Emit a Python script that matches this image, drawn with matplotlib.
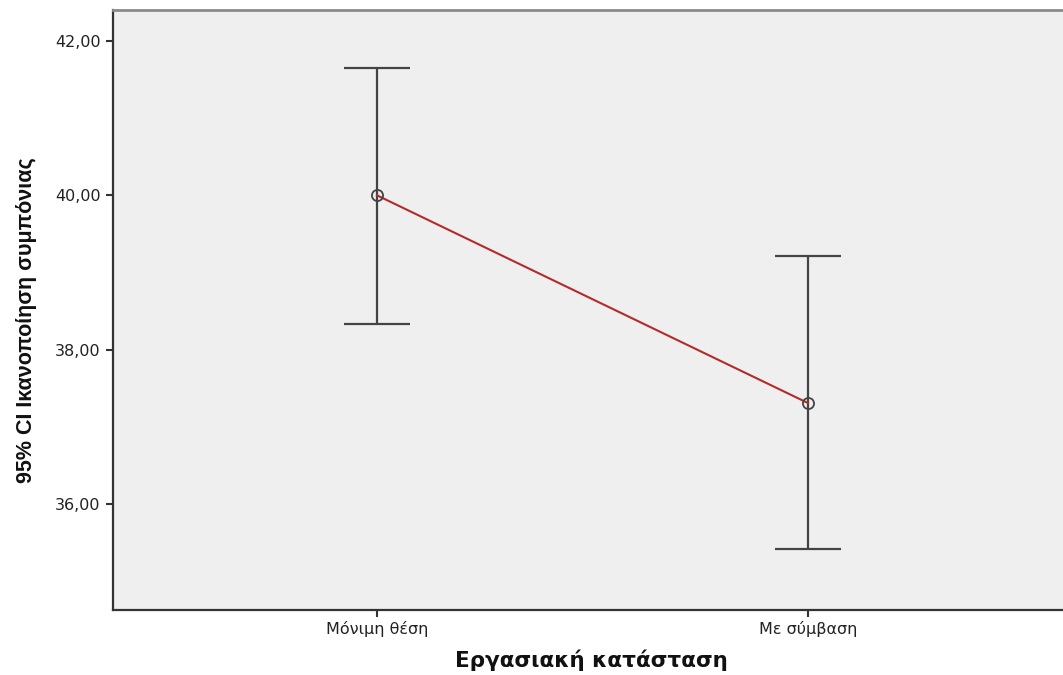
import matplotlib.pyplot as plt

groups = ['Μόνιμη θέση', 'Με σύμβαση']
means = [40.00, 37.31]
ci_low = [38.34, 35.42]
ci_high = [41.65, 39.21]
y_ticks = [36, 38, 40, 42]

fig = plt.figure(figsize=(10.63, 6.75), dpi=100)
ax = fig.add_axes([113 / 1063, 65 / 675, 957 / 1063, 600 / 675])
ax.set_facecolor('#efefef')

x = list(range(len(groups)))
err_lo = [m - lo for m, lo in zip(means, ci_low)]
err_hi = [hi - m for m, hi in zip(means, ci_high)]

ax.errorbar(x, means, yerr=[err_lo, err_hi], fmt='none', ecolor='#444444',
            elinewidth=1.6, capsize=24, capthick=1.6, zorder=2)
ax.plot(x, means, color='#b52a2a', linewidth=1.5, zorder=3)
ax.plot(x, means, 'o', markersize=8, markerfacecolor='none',
        markeredgecolor='#444444', markeredgewidth=1.3, zorder=4)

ax.set_xlim(-0.6125, 1.608)
ax.set_ylim(34.63, 42.40)

ax.set_xticks(x)
ax.set_xticklabels(groups, fontsize=11.5, color='#222222')
ax.set_yticks(y_ticks)
ax.set_yticklabels([f'{v:.2f}'.replace('.', ',') for v in y_ticks],
                   fontsize=11.5, color='#222222')
ax.tick_params(axis='both', direction='out', length=5, width=1.5,
               color='#333333', pad=3)
ax.tick_params(axis='y', pad=4)

for side in ['left', 'bottom']:
    ax.spines[side].set_color('#333333')
    ax.spines[side].set_linewidth(1.6)
ax.spines['top'].set_color('#8a8a8a')
ax.spines['top'].set_linewidth(2)
ax.spines['right'].set_visible(False)

ax.set_xlabel('Εργασιακή κατάσταση', fontsize=15.5, fontweight='bold',
              labelpad=9, color='#111111')
ax.set_ylabel('95% CI Ικανοποίηση συμπόνιας', fontsize=15.5,
              fontweight='bold', family='Liberation Sans', color='#111111')
ax.yaxis.set_label_coords(-0.079, 0.483)

fig.savefig('out.png', dpi=100)
